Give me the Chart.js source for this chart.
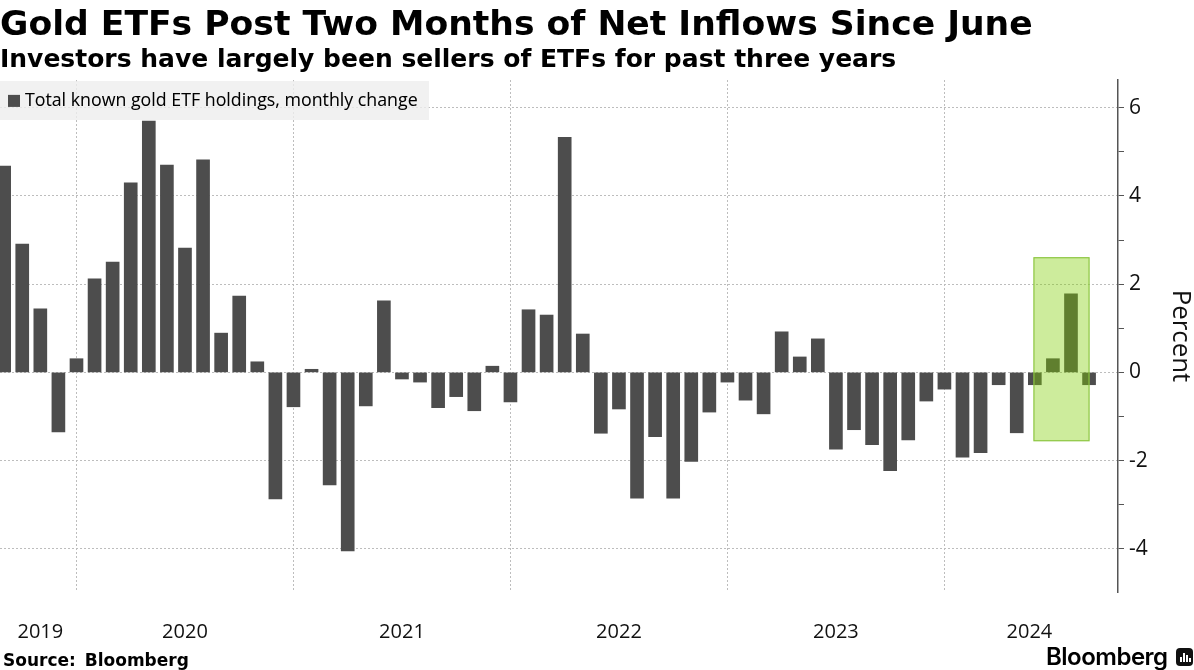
<!DOCTYPE html>
<html>
<head>
<meta charset="utf-8">
<script src="https://cdn.jsdelivr.net/npm/chart.js@4"></script>
<style>
  html, body { margin: 0; padding: 0; background: #fff; }
  #wrap { position: relative; width: 1194px; height: 670px; overflow: hidden; font-family: "DejaVu Sans", sans-serif; color: #000; }
  #myChart { position: absolute; left: 0; top: 0; }
  .txt { position: absolute; white-space: nowrap; font-weight: bold; }
  #title { left: 0; top: 3px; font-size: 34.6px; line-height: 40px; }
  #subtitle { left: 0; top: 44px; font-size: 25px; line-height: 30px; }
  #source { left: 3px; top: 650px; font-size: 17px; line-height: 20px; word-spacing: 3px; }
  #logo { left: 1046px; top: 642px; font-size: 24px; line-height: 30px; font-family: "Inter", sans-serif; font-weight: 600; letter-spacing: -0.5px; }
  #logoIcon { position: absolute; left: 1176px; top: 648px; width: 17px; height: 18px; background: #111; border-radius: 4px; }
  #logoIcon i { position: absolute; bottom: 4px; width: 2px; background: #fff; }
</style>
</head>
<body>
<div id="wrap">
  <canvas id="myChart" width="1194" height="670"></canvas>
  <div class="txt" id="title">Gold ETFs Post Two Months of Net Inflows Since June</div>
  <div class="txt" id="subtitle">Investors have largely been sellers of ETFs for past three years</div>
  <div class="txt" id="source">Source: Bloomberg</div>
  <div class="txt" id="logo">Bloomberg</div>
  <div id="logoIcon"><i style="left:4px;height:5px"></i><i style="left:7px;height:9px"></i><i style="left:10px;height:7px"></i><i style="left:13px;height:4px"></i></div>
</div>
<script>
// месячные изменения, по порядку слева направо
const monthlyChange = [
  4.68, 2.91, 1.44, -1.35, 0.31, 2.12, 2.5, 4.3, 5.7, 4.7, 2.82, 4.82, 0.89, 1.73, 0.24, -2.87,
  -0.78, 0.07, -2.55, -4.05, -0.76, 1.62, -0.15, -0.22, -0.8, -0.55, -0.87, 0.14, -0.67, 1.42,
  1.3, 5.33, 0.87, -1.38, -0.83, -2.85, -1.46, -2.85, -2.02, -0.9, -0.22, -0.63, -0.94, 0.92,
  0.35, 0.76, -1.74, -1.3, -1.64, -2.23, -1.53, -0.65, -0.38, -1.92, -1.82, -0.28, -1.37, -0.28,
  0.31, 1.78, -0.28,
];
const seriesLabel = 'Total known gold ETF holdings, monthly change';
const yearLabels = ['2019', '2020', '2021', '2022', '2023', '2024'];
const yearLabelPositions = [2, 10, 22, 34, 46, 56.7];
const yearGridPositions = [4, 16, 28, 40, 52];
const yTicks = [-4, -3, -2, -1, 0, 1, 2, 3, 4, 5, 6];
const highlightFrom = 56.95;
const highlightTo = 60;
const highlightTop = 2.6;
const highlightBottom = -1.55;

const points = monthlyChange.map((v, i) => ({ x: i, y: v }));

const legendBoxPlugin = {
  id: 'legendBox',
  afterUpdate(chart) {
    // легенда лежит внутри области графика, слева сверху
    chart.legend.left = 8;
    chart.legend.top = 88;
    chart.legend.right = 429;
    chart.legend.bottom = 120;
  },
  beforeDatasetsDraw(chart) {
    // подложка полупрозрачная: сетка сквозь неё едва видна, подпись рисуем поверх заново
    const { ctx } = chart;
    ctx.save();
    ctx.fillStyle = 'rgba(238, 238, 238, 0.8)';
    ctx.fillRect(0, 81, 429, 39);
    ctx.restore();
    chart.legend.draw();
  },
};

const highlightPlugin = {
  id: 'highlight',
  afterDatasetsDraw(chart) {
    const { ctx, scales } = chart;
    const x1 = scales.x.getPixelForValue(highlightFrom);
    const x2 = scales.x.getPixelForValue(highlightTo);
    const y1 = scales.y.getPixelForValue(highlightTop);
    const y2 = scales.y.getPixelForValue(highlightBottom);
    ctx.save();
    ctx.fillStyle = 'rgba(127, 206, 0, 0.39)';
    ctx.fillRect(x1, y1, x2 - x1, y2 - y1);
    ctx.strokeStyle = '#8cc63f';
    ctx.lineWidth = 1.2;
    ctx.strokeRect(x1, y1, x2 - x1, y2 - y1);
    ctx.restore();
  },
};

new Chart(document.getElementById('myChart'), {
  type: 'bar',
  data: {
    datasets: [
      {
        label: seriesLabel,
        data: points,
        backgroundColor: '#4d4d4d',
        barThickness: 13,
      },
    ],
  },
  options: {
    responsive: false,
    animation: false,
    layout: { padding: { top: 80, left: 0, right: 0, bottom: 0 } },
    plugins: {
      tooltip: { enabled: false },
      legend: {
        position: 'chartArea',
        align: 'start',
        labels: {
          boxWidth: 4,
          boxHeight: 4,
          padding: 4,
          color: '#222',
          font: { family: '"Open Sans", sans-serif', size: 17.8 },
          // толстая обводка даёт квадрат 12px и текст ближе к маркеру
          generateLabels: () => [
            { text: seriesLabel, fillStyle: '#4d4d4d', strokeStyle: '#4d4d4d', lineWidth: 8, datasetIndex: 0 },
          ],
        },
      },
    },
    scales: {
      x: {
        type: 'linear',
        offset: false,
        min: -0.23,
        max: 61.6,
        border: { display: false, dash: [2, 2] },
        grid: {
          offset: false,
          drawTicks: false,
          lineWidth: 1,
          color: (c) => (c.tick && yearGridPositions.includes(c.tick.value) ? '#bdbdbd' : 'transparent'),
        },
        afterBuildTicks(scale) {
          scale.ticks = yearGridPositions.concat(yearLabelPositions).map((value) => ({ value }));
        },
        afterFit(scale) {
          scale.height = 78;
        },
        ticks: {
          autoSkip: false,
          maxRotation: 0,
          padding: 28,
          color: '#111',
          font: { family: '"Open Sans", sans-serif', size: 20 },
          callback: (value) => {
            const i = yearLabelPositions.indexOf(value);
            return i >= 0 ? yearLabels[i] : '';
          },
        },
      },
      y: {
        position: 'right',
        min: -4.98,
        max: 6.63,
        border: { display: true, color: '#555', width: 1.5, dash: [2, 2] },
        grid: {
          tickLength: 6,
          tickColor: '#555',
          tickBorderDash: [],
          color: (c) => (c.tick && c.tick.value % 2 === 0 ? '#bdbdbd' : 'transparent'),
          lineWidth: 1,
        },
        afterBuildTicks(scale) {
          scale.ticks = yTicks.map((value) => ({ value }));
        },
        afterFit(scale) {
          scale.width = 76;
        },
        ticks: {
          padding: 5,
          color: '#111',
          font: { family: '"Open Sans", sans-serif', size: 21 },
          callback: (value) => (value % 2 === 0 ? String(value) : ''),
        },
        title: {
          display: true,
          text: 'Percent',
          color: '#111',
          padding: -2,
          font: { family: '"Open Sans", sans-serif', size: 25.8 },
        },
      },
    },
  },
  plugins: [legendBoxPlugin, highlightPlugin],
});
</script>
</body>
</html>
